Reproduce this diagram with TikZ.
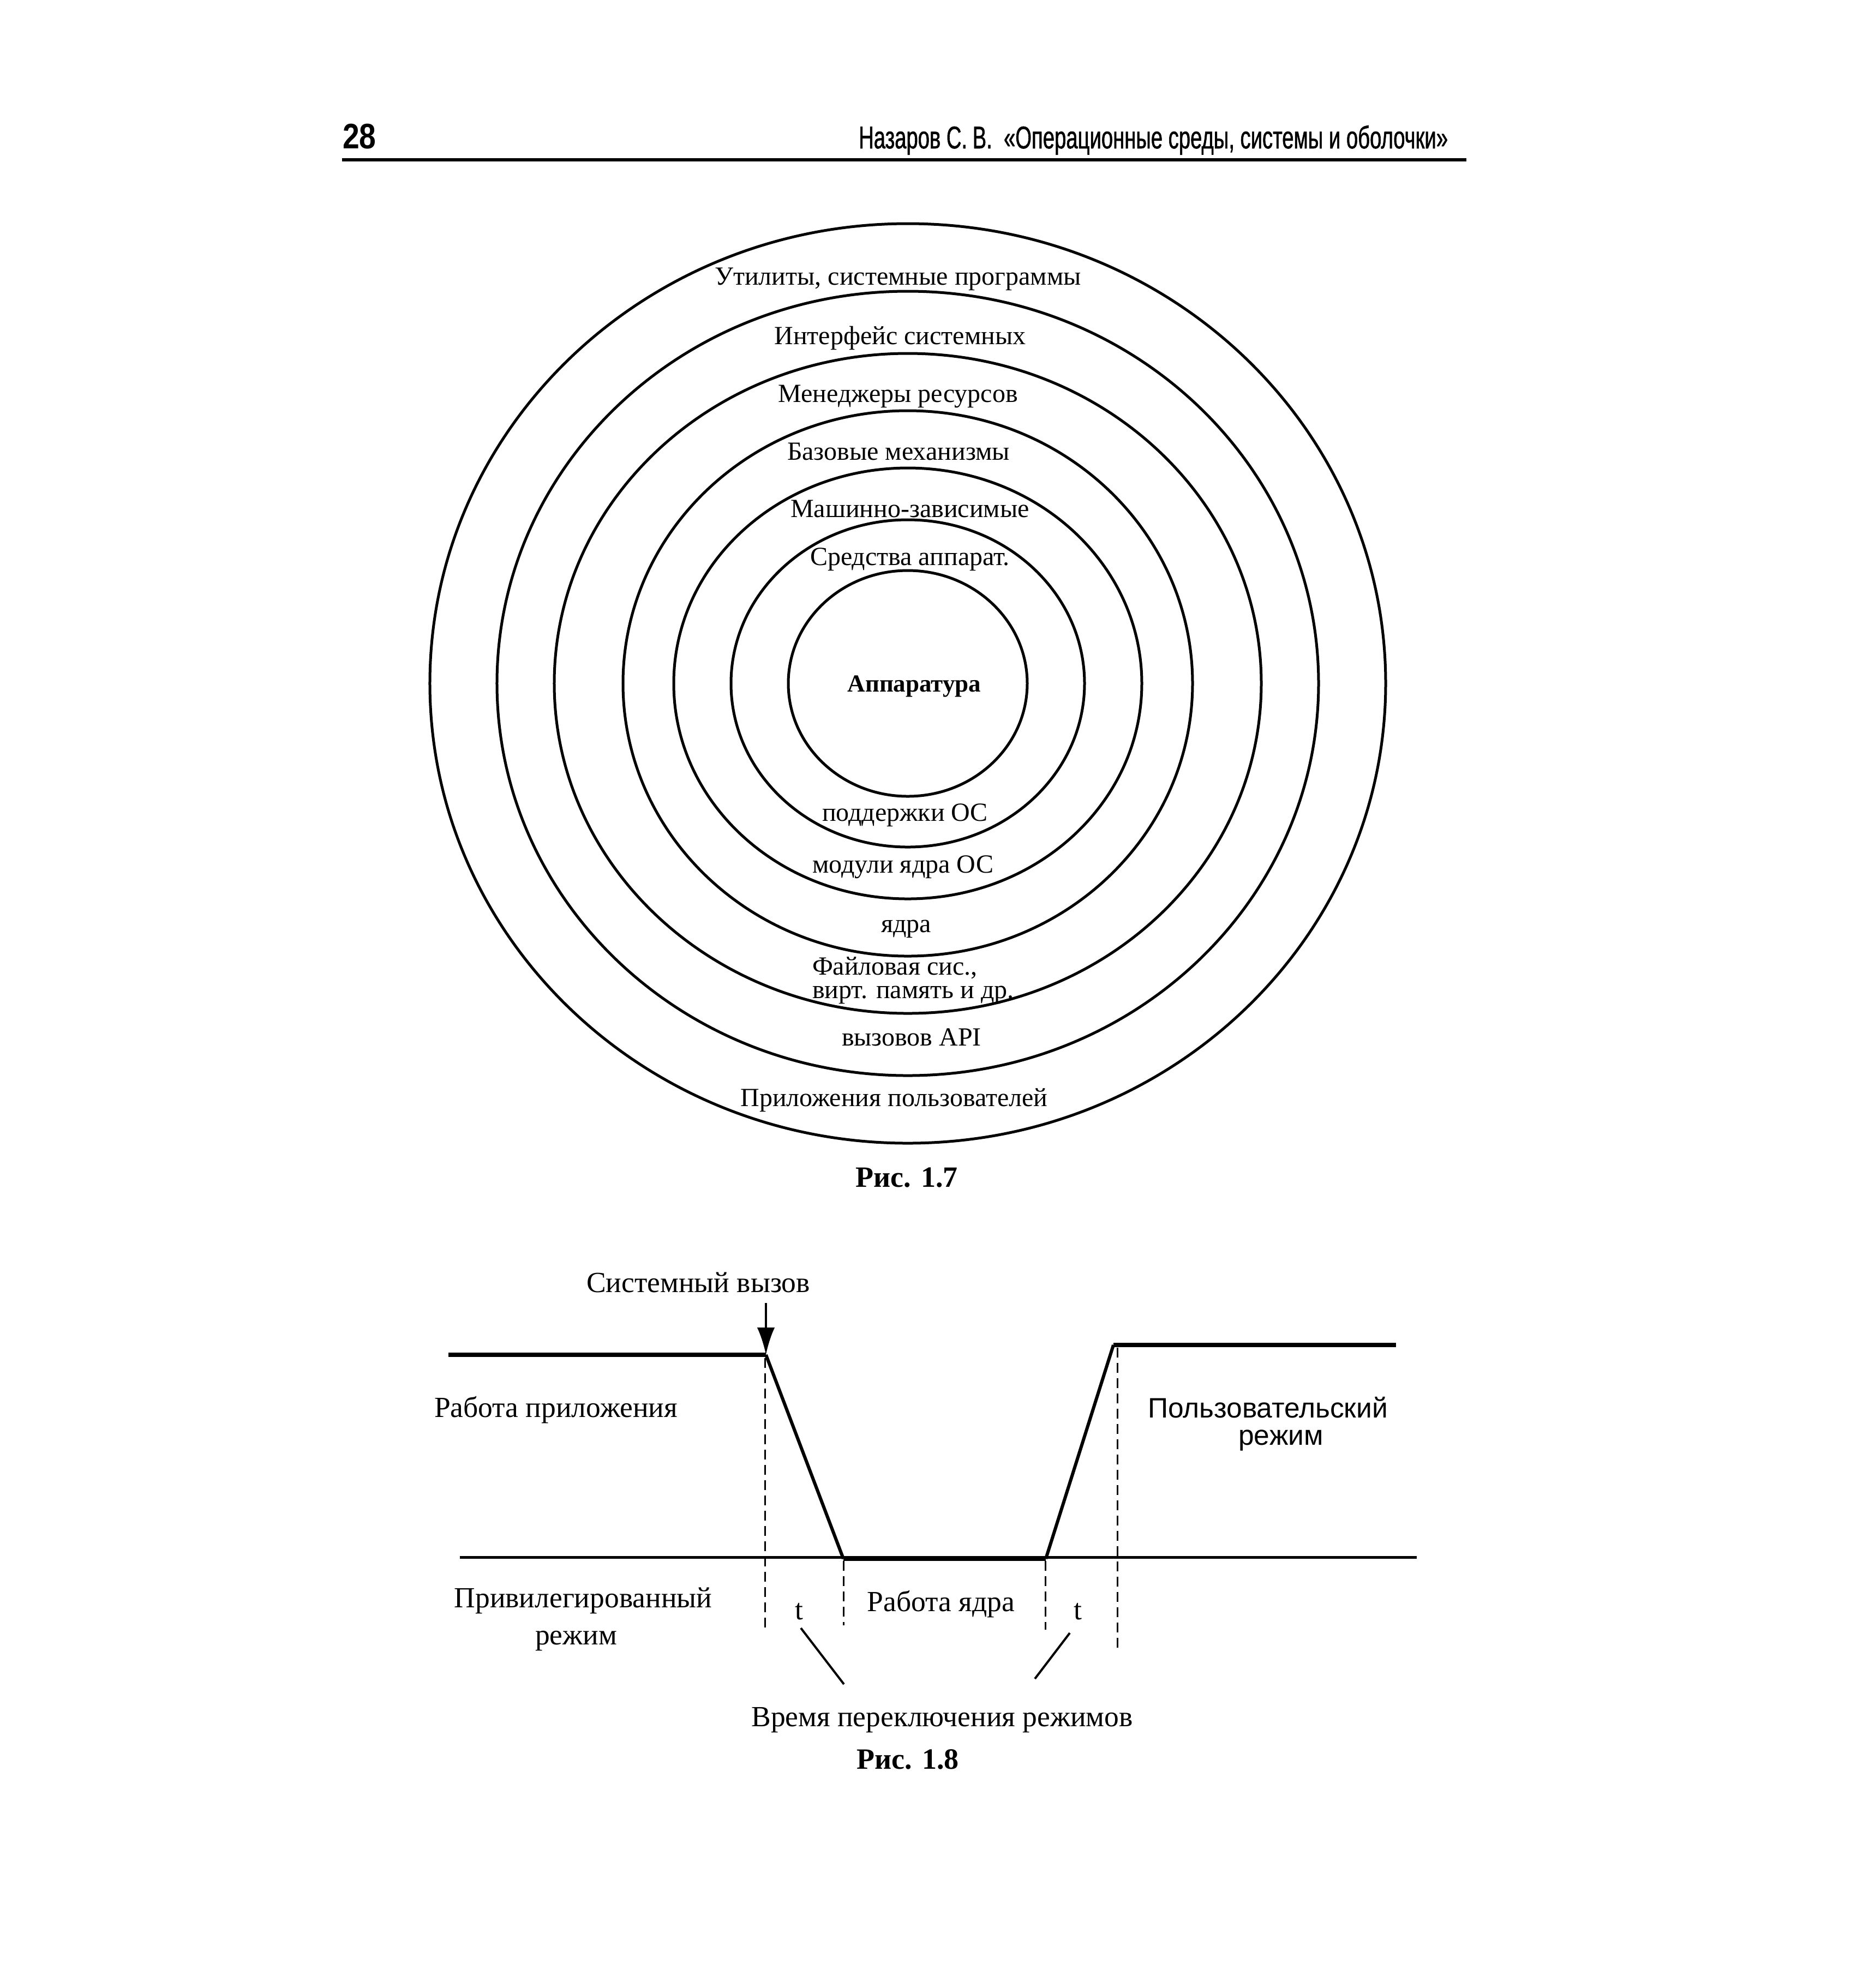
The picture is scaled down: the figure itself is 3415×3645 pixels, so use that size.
\documentclass[tikz,border=0pt]{standalone}
\usepackage{fontspec}
\setmainfont{Liberation Serif}
\newfontfamily\hdrsans[FakeStretch=0.665,FakeBold=1]{Liberation Sans}
\newfontfamily\numsans[FakeStretch=0.85]{Liberation Sans}
\newfontfamily\plainsans{Liberation Sans}
\usetikzlibrary{arrows.meta}

\begin{document}
\begin{tikzpicture}[x=0.2pt,y=-0.2pt,
  ring/.style={line width=1pt},
  rl/.style={inner sep=0pt,anchor=base,font=\fontsize{9.6}{10}\selectfont},
  rlb/.style={inner sep=0pt,anchor=base,font=\fontsize{9}{10}\selectfont\bfseries},
  tl/.style={inner sep=0pt,anchor=base,font=\fontsize{10.7}{12}\selectfont},
  sl/.style={inner sep=0pt,anchor=base,font=\plainsans\fontsize{10.3}{12}\selectfont},
  figcap/.style={inner sep=0pt,anchor=base,font=\fontsize{10.8}{12}\selectfont\bfseries},
  level/.style={line width=1.6pt},
  slope/.style={line width=1.2pt},
  baseln/.style={line width=1pt},
  guide/.style={line width=0.6pt,dash pattern=on 3.6pt off 2pt},
  leader/.style={line width=0.8pt},
]
\useasboundingbox (0,0) rectangle (3415,3645);
\fill[white] (0,0) rectangle (3415,3645);

% ---------- header ----------
\node[inner sep=0pt,anchor=base west,font=\numsans\bfseries\fontsize{13}{14}\selectfont] (pg) at (627,272) {28};
\node[inner sep=0pt,anchor=base east,font=\hdrsans\fontsize{11.5}{12}\selectfont] (ttl) at (2655,272) {Назаров С.\,В.\ \ «Операционные среды, системы и оболочки»};
\coordinate (hl) at (627,293);
\coordinate (hr) at (2688,293);
\draw[line width=1.2pt] (hl) -- (hr);

% ---------- Fig 1.7: rings ----------
\coordinate (O) at (1664,1253);
\foreach \rx/\ry in {175.2/168.6,150.6/143.8,129.6/121,104.4/100,85.8/79,64.8/60,43.8/41.4}
  \draw[ring] (O) ellipse [x radius=\rx pt, y radius=\ry pt];

\node[rl] (l1) at (1646,522) {Утилиты, системные программы};
\node[rl] (l2) at (1650,631) {Интерфейс системных};
\node[rl] (l3) at (1646,737) {Менеджеры ресурсов};
\node[rl] (l4) at (1647,843) {Базовые механизмы};
\node[rl] (l5) at (1668,948) {Машинно-зависимые};
\node[rl] (l6) at (1668,1036) {Средства аппарат.};
\node[rlb] (hw) at (1676,1268) {Аппаратура};
\node[rl] (l7) at (1659,1505) {поддержки ОС};
\node[rl] (l8) at (1655,1600) {модули ядра ОС};
\node[rl] (l9) at (1661,1709) {ядра};
\node[rl,anchor=base west] (l10a) at (1488,1787) {Файловая сис.,};
\node[rl,anchor=base west] (l10b) at (1488,1830) {вирт. память и др.};
\node[rl] (l11) at (1671,1917) {вызовов API};
\node[rl] (l12) at (1639,2028) {Приложения пользователей};
\node[figcap] (cap7) at (1662,2176) {Рис. 1.7};

% ---------- Fig 1.8 ----------
\node[tl] (sv) at (1280,2369) {Системный вызов};
\coordinate (svs) at (1404,2389);
\coordinate (A) at (822,2484);
\coordinate (B) at (1404,2484);
\coordinate (C) at (1546,2858);
\coordinate (D) at (1917,2858);
\coordinate (E) at (2041,2466);
\coordinate (F) at (2559,2466);
\coordinate (bl) at (843,2855);
\coordinate (br) at (2597,2855);

\draw[baseln] (bl) -- (br);
\draw[level] (A) -- (B);
\draw[slope] (B) -- (C);
\draw[level] (C) -- (D);
\draw[slope] (D) -- (E);
\draw[level] (E) -- (F);
\draw[line width=0.8pt,-{Latex[length=10pt,width=6.5pt]}] (svs) -- (B);

\coordinate (g1a) at (1402,2490); \coordinate (g1b) at (1402,2992);
\coordinate (g2a) at (1546,2862); \coordinate (g2b) at (1546,2980);
\coordinate (g3a) at (1916,2862); \coordinate (g3b) at (1916,2988);
\coordinate (g4a) at (2048,2471); \coordinate (g4b) at (2048,3023);
\draw[guide] (g1a) -- (g1b);
\draw[guide] (g2a) -- (g2b);
\draw[guide] (g3a) -- (g3b);
\draw[guide] (g4a) -- (g4b);

\node[tl,anchor=base west] (app) at (795,2598) {Работа приложения};
\node[sl] (um1) at (2324,2599) {Пользовательский};
\node[sl] (um2) at (2348,2649) {режим};
\node[tl] (pm1) at (1069,2947) {Привилегированный};
\node[tl] (pm2) at (1056,3015) {режим};
\node[tl] (t1) at (1465,2969) {t};
\node[tl] (t2) at (1976,2969) {t};
\node[tl] (kw) at (1725,2954) {Работа ядра};
\node[tl] (sw) at (1727,3165) {Время переключения режимов};
\node[figcap] (cap8) at (1664,3243) {Рис. 1.8};

\coordinate (ld1a) at (1468,2985); \coordinate (ld1b) at (1547,3088);
\coordinate (ld2a) at (1961,2994); \coordinate (ld2b) at (1897,3078);
\draw[leader] (ld1a) -- (ld1b);
\draw[leader] (ld2a) -- (ld2b);
\end{tikzpicture}
\end{document}
